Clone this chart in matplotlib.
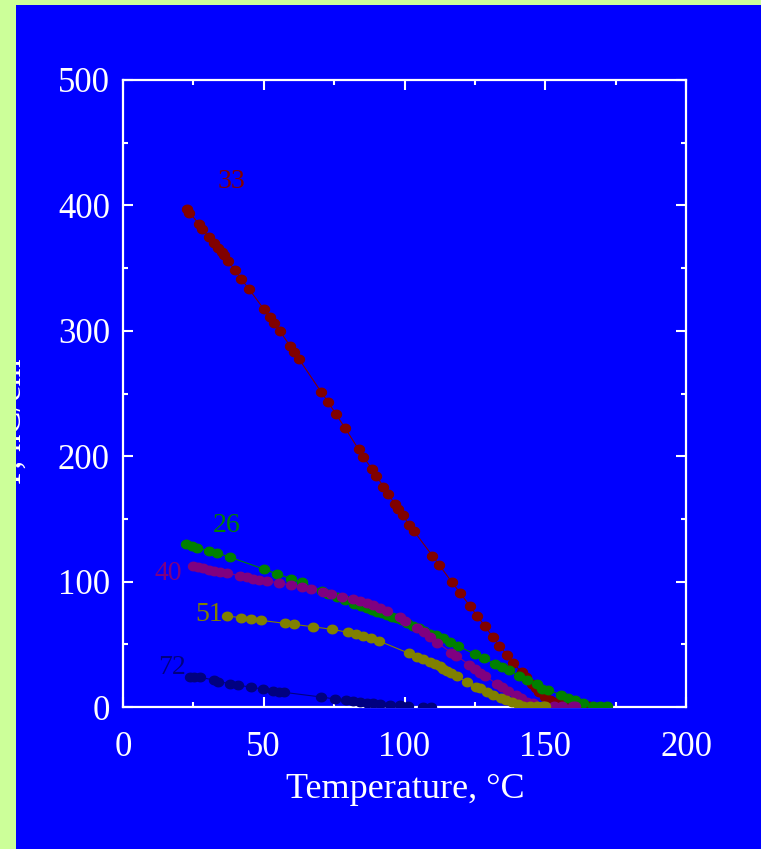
import numpy as np
import matplotlib
matplotlib.use("Agg")
import matplotlib.pyplot as plt
from matplotlib.path import Path
from matplotlib.patches import Rectangle

# Polarization vs temperature, one series per sample
t33 = [22.6, 23.6, 27.0, 28.2, 30.4, 32.2, 33.6, 35.1, 35.9, 37.3, 39.7, 42.0, 44.8,
       50.0, 52.1, 53.6, 55.7, 59.3, 60.7, 62.5, 70.4, 72.9, 75.7, 78.8, 83.7, 85.4,
       88.3, 90.0, 92.5, 94.2, 96.5, 97.8, 99.4, 101.6, 103.4, 109.9, 112.4, 116.9,
       119.7, 123.3, 125.9, 128.5, 131.4, 133.7, 136.4, 138.5, 141.6, 143.3, 145.2,
       146.7, 147.8, 149.8, 151.7, 153.5, 156.2, 158.8, 160.8, 163.3, 165.6]
p33 = [397.1, 394.2, 385.2, 381.4, 375.0, 370.0, 366.3, 362.6, 360.2, 355.4, 348.7,
       341.3, 333.1, 317.4, 311.0, 306.0, 299.8, 288.1, 283.3, 277.5, 251.2, 243.0,
       233.4, 222.7, 205.5, 199.6, 190.0, 184.4, 175.7, 169.9, 162.1, 157.7, 152.9,
       145.4, 140.1, 120.7, 113.0, 99.4, 91.1, 80.3, 72.3, 64.8, 55.6, 48.9, 41.5,
       35.3, 27.7, 23.9, 18.6, 14.9, 12.0, 8.2, 5.6, 3.7, 2.4, 1.0, 1.0, 0.8, 0.6]

t26 = [22.4, 24.4, 26.4, 30.4, 33.5, 38.1, 50.0, 54.7, 59.8, 63.6, 70.6, 73.0, 76.0,
       79.0, 82.0, 84.5, 86.6, 88.5, 90.1, 92.0, 93.7, 95.5, 97.2, 99.0, 101.0, 103.0,
       105.0, 107.0, 109.0, 111.2, 113.6, 116.2, 119.1, 125.2, 128.2, 132.3, 134.6,
       137.0, 140.8, 143.4, 147.0, 148.8, 151.0, 155.6, 158.2, 160.6, 163.5, 167.1,
       169.4, 171.8]
p26 = [129.7, 128.1, 127.0, 124.6, 122.8, 119.4, 110.0, 106.1, 102.3, 99.4, 92.7, 90.5,
       88.0, 85.5, 82.5, 80.5, 78.7, 77.2, 76.0, 74.7, 73.4, 72.0, 70.7, 69.0, 67.0,
       64.8, 62.6, 60.5, 58.5, 57.4, 54.8, 52.1, 48.4, 42.0, 38.8, 34.3, 31.9, 29.3,
       24.7, 21.5, 18.3, 14.4, 13.8, 9.6, 7.4, 5.3, 3.0, 1.0, 0.8, 0.8]

t40 = [24.8, 26.7, 28.5, 30.6, 32.4, 34.5, 37.1, 41.6, 43.9, 46.3, 48.3, 51.0, 55.3,
       59.6, 63.5, 66.7, 70.9, 73.8, 77.8, 81.8, 84.2, 86.6, 88.9, 91.3, 93.7, 98.4,
       100.1, 104.3, 106.9, 109.1, 111.6, 116.6, 118.4, 123.0, 124.9, 126.8, 128.6,
       132.8, 134.7, 136.6, 139.7, 141.4, 143.4, 145.5, 149.1, 153.1, 155.8, 159.7,
       160.6]
p40 = [112.7, 111.6, 110.6, 109.5, 108.5, 107.7, 106.6, 104.7, 103.4, 102.1, 101.0,
       100.7, 98.9, 97.3, 95.5, 93.9, 91.9, 90.4, 88.0, 86.1, 84.5, 82.9, 81.1, 79.2,
       76.6, 71.5, 68.8, 62.8, 59.6, 56.1, 51.3, 43.4, 41.0, 33.6, 30.5, 27.4, 24.8,
       18.3, 15.7, 12.9, 9.2, 7.3, 4.2, 3.0, 1.0, 0.8, 0.8, 0.6, 0.6]

t51 = [37.1, 41.8, 45.6, 49.1, 57.5, 60.7, 67.4, 74.1, 79.8, 82.6, 85.4, 88.2, 91.1,
       101.6, 104.5, 106.7, 109.1, 111.0, 112.6, 113.6, 115.0, 116.4, 118.6, 122.1,
       125.4, 126.8, 129.2, 131.6, 134.4, 136.1, 138.1, 140.4, 142.2, 144.6, 147.0,
       149.3, 149.9]
p51 = [72.6, 71.2, 70.2, 69.1, 66.7, 65.9, 64.0, 62.0, 59.6, 58.2, 56.3, 54.7, 52.5,
       42.8, 39.9, 38.0, 35.6, 34.2, 32.7, 30.5, 29.0, 26.9, 24.4, 20.2, 16.2, 14.9,
       11.7, 9.6, 7.4, 5.6, 3.7, 2.2, 1.0, 0.6, 0.8, 0.8, 0.8]

t72 = [23.8, 25.3, 27.4, 32.3, 33.9, 38.0, 41.0, 45.5, 49.6, 53.4, 55.5, 57.2, 70.3,
       75.3, 79.2, 81.8, 84.2, 86.6, 88.9, 91.3, 94.8, 98.4, 101.3, 106.5, 109.3]
p72 = [24.2, 23.9, 23.7, 21.5, 20.2, 18.6, 17.5, 15.7, 14.4, 13.0, 12.2, 11.7, 8.0,
       6.4, 5.3, 4.8, 4.2, 3.4, 3.0, 2.4, 1.8, 1.4, 0.8, 0.2, 0.0]

labels = ["33", "26", "40", "51", "72"]
label_t = [38.4, 36.7, 16.2, 30.5, 17.4]
label_p = [413.6, 139.3, 101.3, 68.8, 26.3]

x_ticks = [0, 50, 100, 150, 200]
y_ticks = [0, 100, 200, 300, 400, 500]

series = [
    (t33, p33, "#800000"),
    (t26, p26, "#008000"),
    (t40, p40, "#800080"),
    (t51, p51, "#808000"),
    (t72, p72, "#000080"),
]

W, H = 761, 849
fig = plt.figure(figsize=(W / 100, H / 100), dpi=100, facecolor="#CCFF99")
plt.rcParams["font.family"] = ["Liberation Serif", "DejaVu Serif"]

# blue panel behind the plot
fig.patches.append(Rectangle((16 / W, 0), 1 - 16 / W, 1 - 5 / H,
                             transform=fig.transFigure, facecolor="#0000FF",
                             edgecolor="none", zorder=-5))

ax = fig.add_axes([123 / W, 1 - 707 / H, (686 - 123) / W, (707 - 80) / H])
ax.set_zorder(1)
ax.set_facecolor("#0000FF")

# slightly flattened dot marker
theta = np.linspace(0, 2 * np.pi, 40)
dot = Path(np.column_stack([np.cos(theta), 0.87 * np.sin(theta)]), closed=True)

for t, p, c in series:
    ax.plot(t, p, "-", color=c, lw=0.8, zorder=2)
    ax.plot(t, p, linestyle="none", marker=dot, ms=8.2, color=c,
            markeredgewidth=0, zorder=3)

for lab, lt, lp, (_, _, c) in zip(labels, label_t, label_p, series):
    ax.text(lt, lp, lab, color=c, fontsize=20, ha="center", va="baseline")

ax.set_xlim(0, 200)
ax.set_ylim(0, 500)
ax.set_xticks(x_ticks)
ax.set_yticks(y_ticks)
ax.set_xticks(np.arange(25, 200, 50), minor=True)
ax.set_yticks(np.arange(50, 500, 100), minor=True)

for s in ax.spines.values():
    s.set_color("white")
    s.set_linewidth(1.6)

ax.tick_params(which="both", direction="in", top=True, right=True,
               color="white", width=1.5, labelcolor="white", labelsize=25)
ax.tick_params(which="major", length=7.2)
ax.tick_params(which="minor", length=3.6)
ax.tick_params(axis="x", which="major", pad=17.5)
ax.tick_params(axis="y", which="major", pad=9.4)

fig.text(405 / W, 1 - 789 / H, "Temperature, °C", color="white", fontsize=26,
         ha="center", va="center")
fig.text(12 / W, 1 - 416 / H, "P, nC/cm²", color="white", fontsize=25,
         rotation=90, ha="center", va="center")

# left margin strip sits above the panel and clips the axis title
fig.patches.append(Rectangle((0, 0), 16 / W, 1, transform=fig.transFigure,
                             facecolor="#CCFF99", edgecolor="none", zorder=10))
fig.patches.append(Rectangle((0, 1 - 5 / H), 1, 5 / H, transform=fig.transFigure,
                             facecolor="#CCFF99", edgecolor="none", zorder=10))

fig.savefig("out.png", dpi=100, facecolor=fig.get_facecolor())
